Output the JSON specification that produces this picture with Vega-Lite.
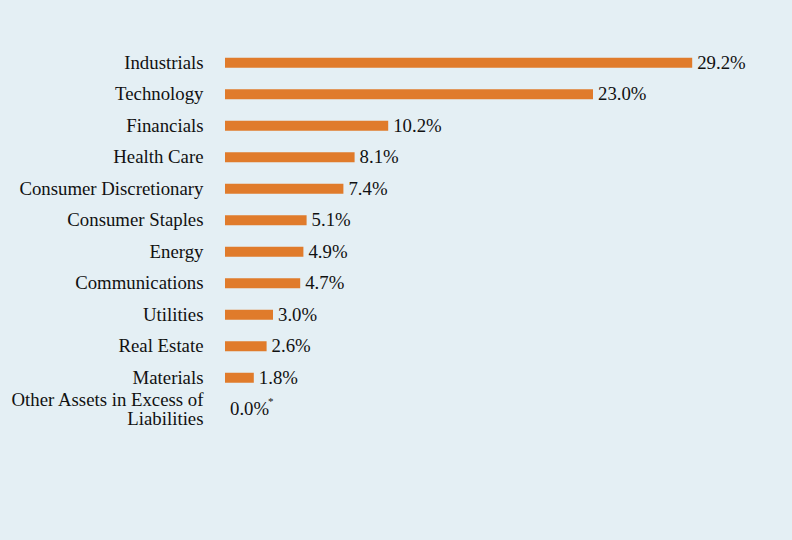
{
  "$schema": "https://vega.github.io/schema/vega-lite/v6.json",
  "autosize": "none",
  "width": 544,
  "height": 378,
  "padding": {"left": 225, "top": 47, "right": 23, "bottom": 115},
  "background": "#e4eff4",
  "data": {
    "values": [
      {"sector": "Industrials", "pct": 29.2, "label": "29.2%", "note": ""},
      {"sector": "Technology", "pct": 23.0, "label": "23.0%", "note": ""},
      {"sector": "Financials", "pct": 10.2, "label": "10.2%", "note": ""},
      {"sector": "Health Care", "pct": 8.1, "label": "8.1%", "note": ""},
      {"sector": "Consumer Discretionary", "pct": 7.4, "label": "7.4%", "note": ""},
      {"sector": "Consumer Staples", "pct": 5.1, "label": "5.1%", "note": ""},
      {"sector": "Energy", "pct": 4.9, "label": "4.9%", "note": ""},
      {"sector": "Communications", "pct": 4.7, "label": "4.7%", "note": ""},
      {"sector": "Utilities", "pct": 3.0, "label": "3.0%", "note": ""},
      {"sector": "Real Estate", "pct": 2.6, "label": "2.6%", "note": ""},
      {"sector": "Materials", "pct": 1.8, "label": "1.8%", "note": ""},
      {"sector": "Other Assets in Excess of|Liabilities", "pct": 0.0, "label": "0.0%", "note": "*"}
    ]
  },
  "config": {
    "view": {"stroke": null},
    "font": "Liberation Serif"
  },
  "encoding": {
    "y": {
      "field": "sector",
      "type": "nominal",
      "sort": null,
      "title": null,
      "scale": {"paddingInner": 0, "paddingOuter": 0},
      "axis": {
        "domain": false,
        "ticks": false,
        "labelPadding": 22,
        "labelFont": "Liberation Serif",
        "labelFontSize": 18.8,
        "labelColor": "#111111",
        "labelLimit": 300,
        "labelLineHeight": 19,
        "labelOffset": {"expr": "indexof(datum.label, '|') >= 0 ? -9 : 0"},
        "labelExpr": "split(datum.label, '|')"
      }
    },
    "x": {
      "field": "pct",
      "type": "quantitative",
      "scale": {"domain": [0, 34]},
      "axis": null
    }
  },
  "layer": [
    {
      "mark": {"type": "bar", "color": "#e07b2b", "size": 10}
    },
    {
      "mark": {"type": "text", "align": "left", "baseline": "middle", "dx": 5, "fontSize": 18.8, "color": "#111111"},
      "encoding": {"text": {"field": "label"}}
    },
    {
      "mark": {"type": "text", "align": "left", "baseline": "middle", "dx": 43, "dy": -7, "fontSize": 11, "color": "#111111"},
      "encoding": {"text": {"field": "note"}}
    }
  ]
}
